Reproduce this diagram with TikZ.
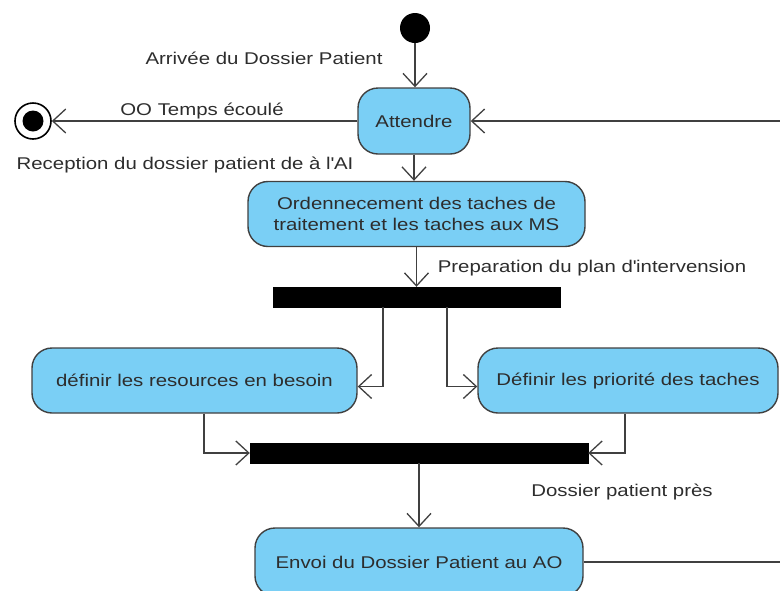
\documentclass[tikz,border=0pt]{standalone}
\usepackage{fontspec}
\setmainfont{Liberation Sans}[FakeStretch=1.2]
\usepackage{tikz}
\usetikzlibrary{arrows.meta,positioning,calc}
\definecolor{actblue}{RGB}{122,207,245}
\definecolor{linegray}{RGB}{64,64,64}
\definecolor{txtgray}{RGB}{45,45,45}

\begin{document}
\begin{tikzpicture}[x=1pt, y=-1pt,
    font=\fontsize{17}{21}\selectfont, text=txtgray,
    action/.style={rectangle, rounded corners=20pt, draw=linegray, line width=1.4pt, fill=actblue, align=center, inner sep=0pt},
    bar/.style={rectangle, fill=black, draw=black, inner sep=0pt, minimum height=20pt},
    arrow/.style={-{Straight Barb[length=13pt,width=24pt,line width=1.3pt]}, draw=linegray, line width=1.3pt},
    lbl/.style={inner sep=0pt}]

    \useasboundingbox (0,0) rectangle (780,590);
    \clip (0,0) rectangle (780,590);

    \node[circle, fill=black, minimum size=30pt, inner sep=0pt] (start) at (415,28) {};
    \node[action, minimum width=112pt, minimum height=66pt] (attendre) at (414,121) {Attendre};
    \node[circle, draw=black, line width=1.6pt, minimum size=36pt, inner sep=0pt] (final) at (33,121) {};
    \node[circle, fill=black, minimum size=21pt, inner sep=0pt] (finaldot) at (final) {};
    \node[action, minimum width=337pt, minimum height=65pt] (ordo) at (416.5,214) {Ordennecement des taches de\\traitement et les taches aux MS};
    \node[bar, minimum width=287pt] (fork) at (416.5,297) {};
    \node[action, minimum width=325pt, minimum height=65pt] (res) at (194.5,380.5) {définir les resources en besoin};
    \node[action, minimum width=300pt, minimum height=65pt] (prio) at (628,380.5) {Définir les priorité des taches};
    \node[bar, minimum width=338pt] (join) at (419,453) {};
    \node[action, minimum width=328pt, minimum height=68pt] (envoi) at (419,562) {Envoi du Dossier Patient au AO};
    \coordinate (loopturn) at (800,0);

    \node[lbl] (arrivee) at (264,58) {Arrivée du Dossier Patient};
    \node[lbl] (temps) at (202,111) {OO Temps écoulé};
    \node[lbl] (reception) at (185,165) {Reception du dossier patient de à l\textquotesingle AI};
    \node[lbl] (prep) at (592,268) {Preparation du plan d\textquotesingle intervension};
    \node[lbl] (pres) at (622,492) {Dossier patient près};

    \draw[arrow] (start) -- (start |- attendre.north);
    \draw[arrow] (attendre.west) -- (attendre.west -| final.east);
    \draw[arrow] (attendre) -- (attendre |- ordo.north);
    \draw[arrow] (ordo) -- (fork);
    \draw[arrow] ([xshift=-33.5pt]fork.south) |- ([yshift=-6pt]res.east);
    \draw[arrow] ([xshift=30.5pt]fork.south) |- ([yshift=-6pt]prio.west);
    \draw[arrow] ([xshift=9.5pt]res.south) |- (join.west);
    \draw[arrow] ([xshift=-3pt]prio.south) |- (join.east);
    \draw[arrow] (join) -- (envoi);
    \draw[arrow] (envoi.east) -- (envoi.east -| loopturn) -- (attendre.east -| loopturn) -- (attendre.east);
\end{tikzpicture}
\end{document}
